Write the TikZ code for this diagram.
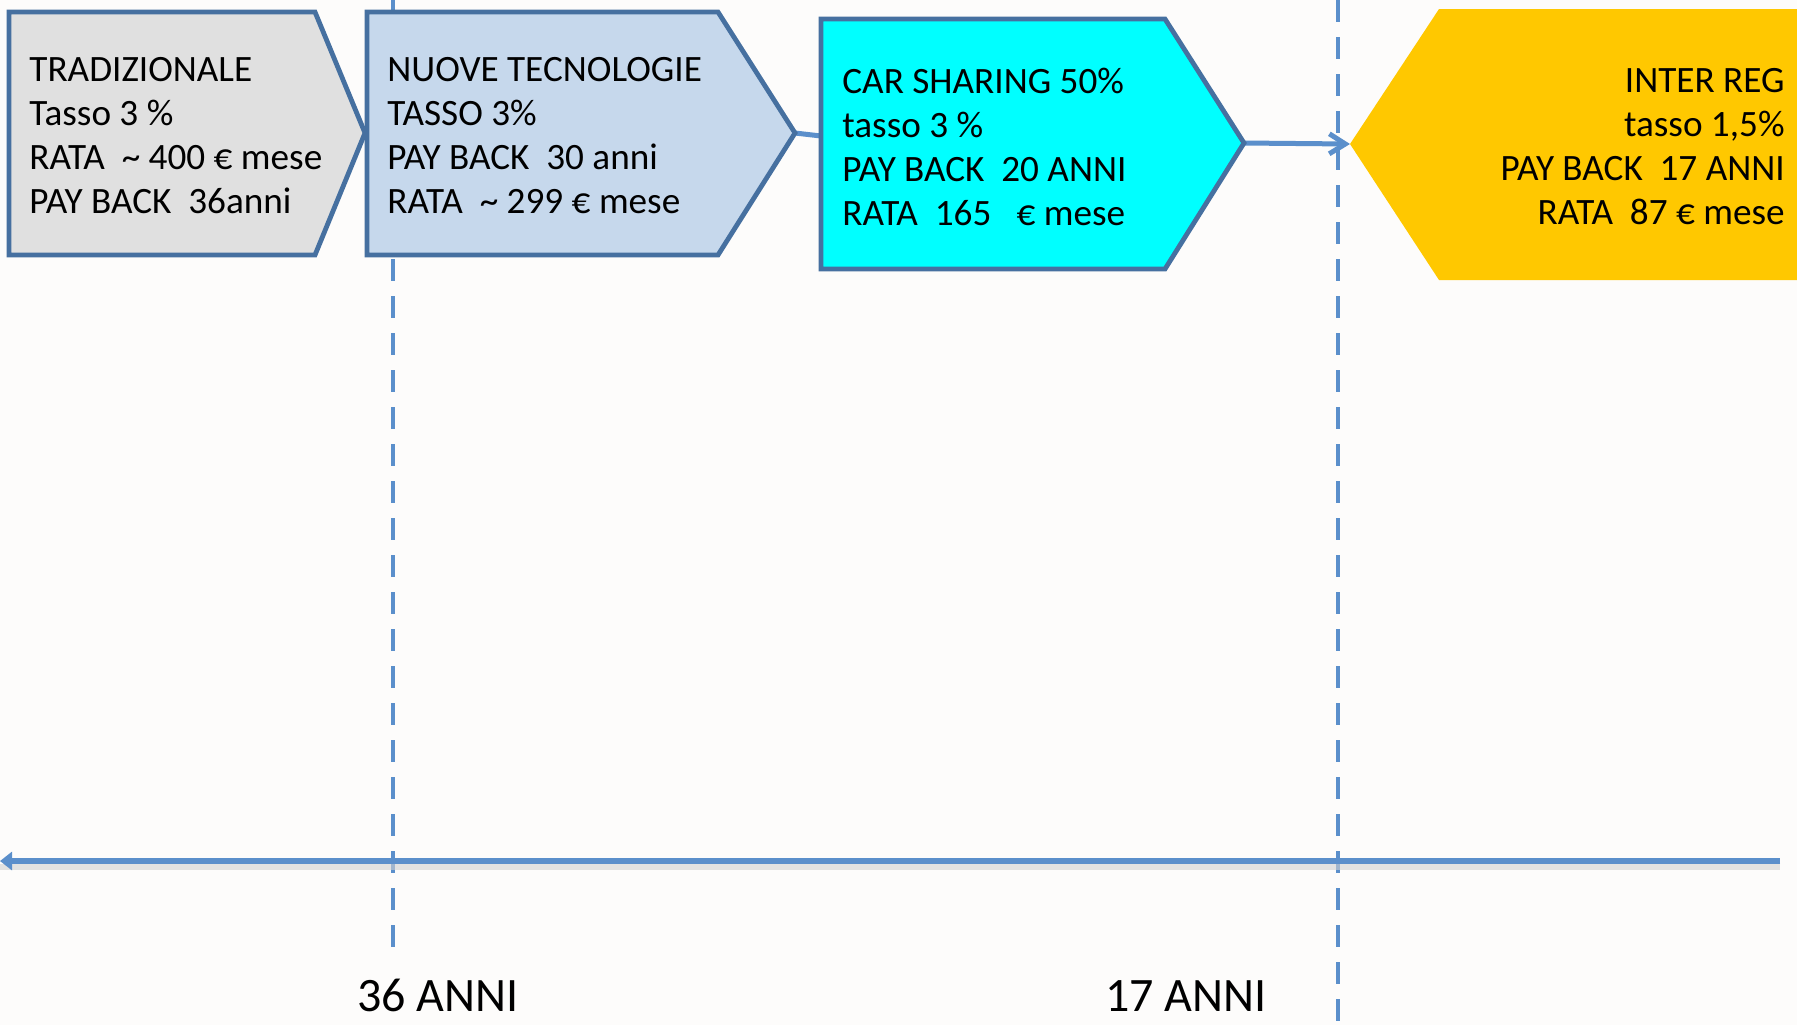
\documentclass[tikz,border=0pt]{standalone}
\usepackage{fontspec}
\setmainfont{Carlito}
\usepackage{tikz}
\usetikzlibrary{arrows.meta}

\definecolor{paper}{HTML}{FDFCFB}
\definecolor{boxline}{HTML}{4670A0}
\definecolor{linkblue}{HTML}{5B8FCB}
\definecolor{tradgray}{HTML}{E0E0E0}
\definecolor{nuoveblue}{HTML}{C6D8EC}
\definecolor{carcyan}{HTML}{00FFFF}
\definecolor{regyellow}{HTML}{FFC800}

\begin{document}
\begin{tikzpicture}[x=0.5pt, y=-0.5pt,
    every node/.style={inner sep=0pt, font=\fontsize{18.6}{22}\selectfont},
    stagebox/.style={draw=boxline, line width=2.4pt, line join=miter},
    boxtext/.style={anchor=north west, align=left},
    yearline/.style={draw=linkblue, line width=2pt, dash pattern=on 11pt off 7.5pt},
    link/.style={draw=linkblue, line width=2.5pt},
    years/.style={anchor=base, font=\fontsize{24}{29}\selectfont}]
  \useasboundingbox[fill=paper] (0,0) rectangle (1797,1025);

  % time marks
  \coordinate (y36top) at (393,0);
  \coordinate (y36bot) at (393,953);
  \coordinate (y17top) at (1338,0);
  \coordinate (y17bot) at (1338,1025);
  \draw[yearline] (y36top) -- (y36bot);
  \draw[yearline] (y17top) -- (y17bot);

  % axis
  \coordinate (axL) at (0,861);
  \coordinate (axR) at (1780,861);
  \draw[black!18, line width=3pt, opacity=0.6, transform canvas={yshift=-3pt}] (axL) -- (axR);
  \draw[link, line width=3.4pt, -{Triangle[length=6pt, width=9pt]}] (axR) -- (axL);

  % tips of the boxes
  \coordinate (t1) at (365,133);
  \coordinate (t2) at (795,133);
  \coordinate (w3) at (821,136);
  \coordinate (t3) at (1244,143);
  \coordinate (t4) at (1350,144);

  \draw[link] (t2) -- (w3);
  \draw[link, -{Straight Barb[length=8pt, width=10pt]}] (t3) -- (t4);

  \path[stagebox, fill=tradgray] (9,12) -- (315,12) -- (t1) -- (315,255) -- (9,255) -- cycle;
  \path[stagebox, fill=nuoveblue] (367,12) -- (718,12) -- (t2) -- (718,255) -- (367,255) -- cycle;
  \path[stagebox, fill=carcyan] (821,19) -- (1165,19) -- (t3) -- (1165,269) -- (821,269) -- cycle;
  \fill[regyellow] (t4) -- (1439,9) -- (1797,9) -- (1797,280) -- (1439,280) -- cycle;

  \node[boxtext] (trad) at (29,57) {TRADIZIONALE\\Tasso 3 \%\\RATA\ \ \textasciitilde\ 400 € mese\\PAY BACK\ \ 36anni};
  \node[boxtext] (nuove) at (387,57) {NUOVE TECNOLOGIE\\TASSO 3\%\\PAY BACK\ \ 30 anni\\RATA\ \ \textasciitilde\ 299 € mese};
  \node[boxtext] (carsharing) at (842,68) {CAR SHARING 50\%\\tasso 3 \%\\PAY BACK\ \ 20 ANNI\\RATA\ \ 165\ \ \ € mese};
  \node[anchor=north east, align=right] (interreg) at (1785,68) {INTER REG\\tasso 1,5\%\\PAY BACK\ \ 17 ANNI\\RATA\ \ 87 € mese};

  \node[years] (anni36) at (438,1011) {36 ANNI};
  \node[years] (anni17) at (1186,1011) {17 ANNI};
\end{tikzpicture}
\end{document}
